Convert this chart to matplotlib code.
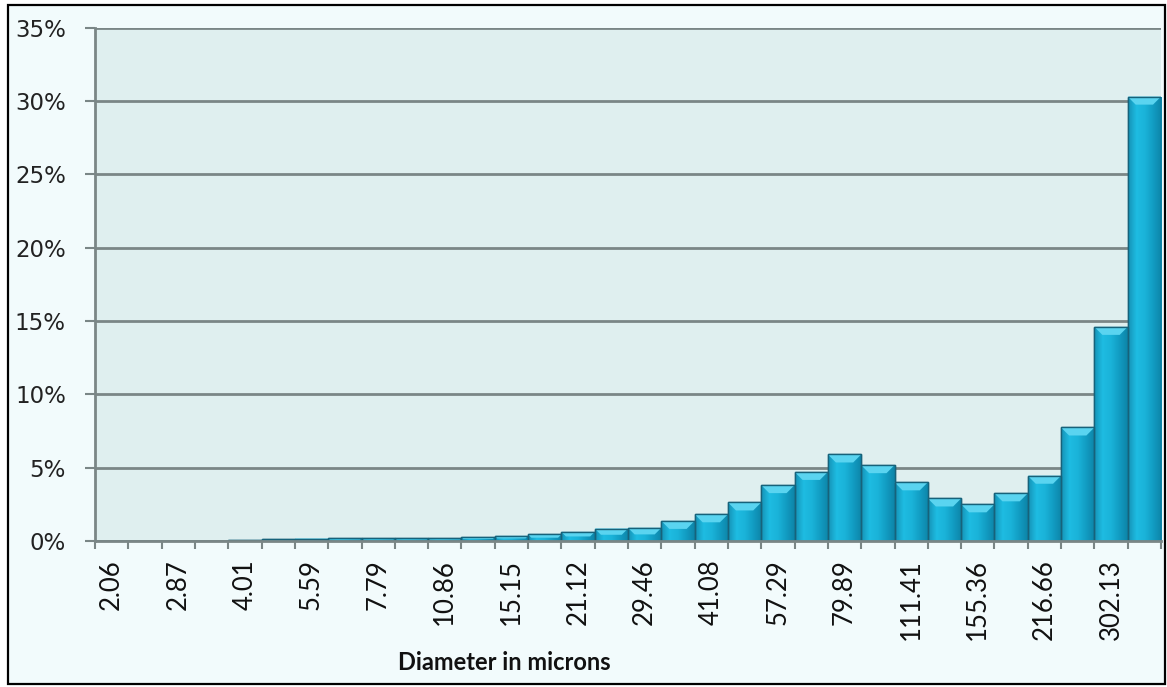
import numpy as np
import matplotlib
matplotlib.use("Agg")
import matplotlib.pyplot as plt
from matplotlib.colors import LinearSegmentedColormap
from matplotlib.patches import Polygon, Rectangle

# Particle size classes (microns) and share of particles in each class (%)
diameters = ["2.06", "2.43", "2.87", "3.39", "4.01", "4.73", "5.59", "6.60",
             "7.79", "9.20", "10.86", "12.82", "15.15", "17.89", "21.12", "24.94",
             "29.46", "34.79", "41.08", "48.51", "57.29", "67.65", "79.89", "94.34",
             "111.41", "131.56", "155.36", "183.47", "216.66", "255.85", "302.13", "356.79"]
share_pct = [0.0, 0.0, 0.0, 0.0, 0.05, 0.12, 0.17, 0.2,
             0.2, 0.2, 0.2, 0.27, 0.35, 0.45, 0.62, 0.85,
             0.9, 1.37, 1.82, 2.63, 3.81, 4.71, 5.9, 5.17,
             4.0, 2.9, 2.5, 3.25, 4.45, 7.74, 14.6, 30.3]
y_ticks = [0, 5, 10, 15, 20, 25, 30, 35]
x_title = "Diameter in microns"

W, H = 1167, 687
fig = plt.figure(figsize=(W / 100, H / 100), dpi=100, facecolor="white")

# outer chart frame
fig.patches.append(Rectangle((8 / W, 3 / H), 1157 / W, 679 / H, transform=fig.transFigure,
                             facecolor="#F2FBFC", edgecolor="black", linewidth=1.6, zorder=-5))

ax = fig.add_axes([95 / W, (H - 541) / H, (1161 - 95) / W, (541 - 27.7) / H])
ax.set_facecolor("#DFEFEF")

grid_col = "#7A8686"
ax.set_ylim(0, 35)
ax.set_xlim(-0.5, len(diameters) - 0.5)
ax.set_yticks(y_ticks)
ax.set_yticklabels([f"{v}%" for v in y_ticks], fontsize=16.5, color="#222222",
                   family="DejaVu Sans")
ax.yaxis.grid(True, color=grid_col, linewidth=2.0, zorder=0)
ax.set_axisbelow(True)
ax.tick_params(axis="y", length=7, width=1.5, color=grid_col, pad=14)

# ticks on every bar boundary, labels on every other bar
x = np.arange(len(diameters))
ax.set_xticks(np.arange(len(diameters) + 1) - 0.5)
ax.set_xticklabels([])
ax.tick_params(axis="x", which="major", length=6, width=1.5, color=grid_col)
ax.set_xticks(x[::2], minor=True)
ax.set_xticklabels(diameters[::2], minor=True, rotation=90, fontsize=18.5,
                   family="Lato", color="#111111")
ax.tick_params(axis="x", which="minor", length=0, pad=13)

for s in ["top", "right"]:
    ax.spines[s].set_visible(False)
for s in ["left", "bottom"]:
    ax.spines[s].set_color(grid_col)
    ax.spines[s].set_linewidth(2.0)
ax.spines["bottom"].set_zorder(6)

# bars with horizontal shading and a bevelled top
body = LinearSegmentedColormap.from_list(
    "body", ["#1592B6", "#1EBCE2", "#1AB3D9", "#129CC2", "#0D84A8"])
grad = np.linspace(0, 1, 64).reshape(1, -1)
bars = ax.bar(x, share_pct, width=1.0, color="#17AFD5", edgecolor="#17627A",
              linewidth=1.0, zorder=3)
px_x = 1.0 / 33.3          # one pixel in x data units
px_y = 35 / (541 - 27.7)   # one pixel in y data units
for rect, v in zip(bars, share_pct):
    if v <= 0:
        continue
    x0 = rect.get_x()
    x1 = x0 + rect.get_width()
    im = ax.imshow(grad, cmap=body, extent=(x0, x1, 0, v), aspect="auto",
                   zorder=3.5, interpolation="bilinear")
    im.set_clip_path(rect)
    dy = min(8 * px_y, v * 0.5)
    dx = min(8 * px_x, dy / px_y * px_x)
    bevel = Polygon([(x0, v), (x1, v), (x1 - dx, v - dy), (x0 + dx, v - dy)],
                    closed=True, facecolor="#5AD4F0", edgecolor="none", zorder=4)
    ax.add_patch(bevel)
    ax.add_patch(Rectangle((x0, 0), x1 - x0, v, facecolor="none",
                           edgecolor="#17627A", linewidth=1.0, zorder=5))

ax.set_xlim(-0.5, len(diameters) - 0.5)
ax.set_ylim(0, 35)

fig.text(504 / W, 1 - 662 / H, x_title, ha="center", va="center", fontsize=17,
         fontweight="bold", family="Lato", color="#111111")

fig.savefig("out.png", dpi=100, facecolor=fig.get_facecolor())
